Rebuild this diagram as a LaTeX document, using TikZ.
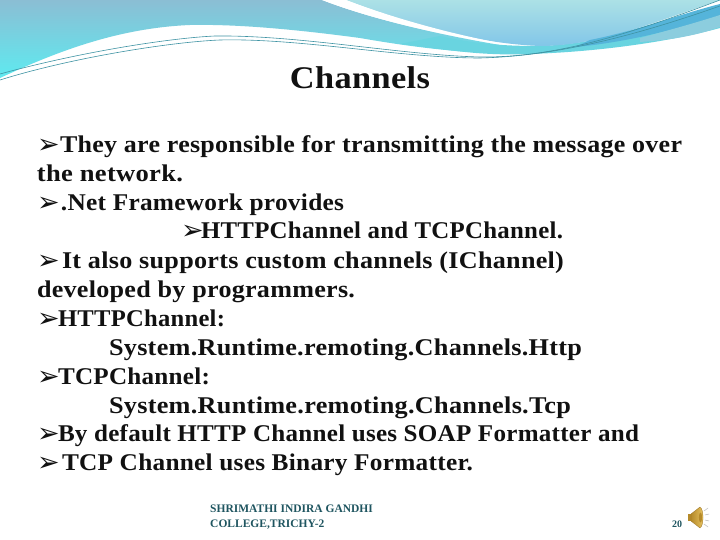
\documentclass[tikz,border=0pt]{standalone}
\usepackage{fontspec}
\usepackage{graphicx}
\setmainfont{Liberation Serif}
\newfontfamily\bulletfont{DejaVu Sans}
\newfontfamily\bodyfont[FakeStretch=1.09,LetterSpace=1.2]{Liberation Serif Bold}
\definecolor{inkc}{HTML}{111111}
\definecolor{footc}{HTML}{1F5560}
\definecolor{lineteal}{HTML}{3E93A3}
\definecolor{bandtop}{HTML}{8BBED4}
\definecolor{bandmid}{HTML}{82C8DA}
\definecolor{bandlow}{HTML}{5EEAF0}
\definecolor{cyanband}{HTML}{69D4E0}
\definecolor{ritop}{HTML}{ACE1E6}
\definecolor{ribot}{HTML}{82C6E8}
\definecolor{deepband}{HTML}{55B4DA}
\definecolor{paleband}{HTML}{8CCDDE}
\definecolor{spkfill}{HTML}{EBC662}
\definecolor{spkdark}{HTML}{B58A2A}
\definecolor{spkdraw}{HTML}{966E1E}
\tikzset{
 bodyline/.style={anchor=base west,inner sep=0pt,outer sep=0pt,text=inkc,font=\bodyfont\fontsize{24}{24}\selectfont},
 titleline/.style={anchor=base,inner sep=0pt,text=inkc,font=\bodyfont\fontsize{31.5}{32}\selectfont},
 footline/.style={anchor=base west,inner sep=0pt,text=footc,font=\bfseries\fontsize{11.5}{12}\selectfont},
 strand/.style={draw=lineteal,line width=0.6pt},
}
\newcommand{\blt}[1]{\makebox[#1][l]{\bulletfont\fontsize{27}{27}\selectfont\raisebox{-1pt}{➢}}}
\newcommand{\fitw}[2]{\resizebox{#1}{\height}{#2}}
\begin{document}
\begin{tikzpicture}[x=1pt,y=-1pt]
\useasboundingbox (0,0) rectangle (720,540);
\fill[white] (0,0) rectangle (720,540);
% upper left band
\shade[top color=bandtop,middle color=bandmid,bottom color=bandlow]
 (0,0) -- (322,0) .. controls (345,9) and (400,28) .. (500,45) -- (530,50)
 .. controls (500,56) and (440,52) .. (360,38)
 .. controls (300,30) and (240,24) .. (190,25)
 .. controls (120,28) and (60,50) .. (0,78) -- cycle;
% lower cyan band
\fill[cyanband] (440,36) .. controls (480,45) and (510,46) .. (540,46)
 .. controls (600,44) and (660,24) .. (720,8) -- (720,28)
 .. controls (660,44) and (590,52) .. (530,54) .. controls (480,56) and (450,50) .. (400,44) -- cycle;
% upper right region
\shade[top color=ritop,bottom color=ribot]
 (346,0) -- (720,0) .. controls (660,20) and (600,46) .. (540,46)
 .. controls (490,44) and (430,32) .. (346,0) -- cycle;
% deeper band at right
\fill[deepband] (590,40) .. controls (640,30) and (680,14) .. (720,4) -- (720,16)
 .. controls (680,28) and (630,42) .. (575,47) -- cycle;
\fill[paleband] (640,38) .. controls (670,30) and (695,23) .. (720,15) -- (720,27) .. controls (695,36) and (670,40) .. (640,42) -- cycle;
% white stripe
\fill[white] (322,0) -- (346,0) .. controls (390,17) and (450,34) .. (505,44) .. controls (450,36) and (380,22) .. (322,0) -- cycle;
% thin strands
\coordinate (s0) at (0,74);
\coordinate (s1) at (0,80);
\coordinate (s2) at (720,0);
\coordinate (s3) at (720,6);
\draw[strand] (s0) .. controls (80,52) and (170,38) .. (215,36) .. controls (300,35) and (400,55) .. (480,57) .. controls (560,58) and (640,30) .. (s2);
\draw[strand] (s1) .. controls (70,58) and (170,42) .. (220,40) .. controls (300,38) and (400,58) .. (480,58) .. controls (560,56) and (640,34) .. (s3);
% title
\node[titleline] (title) at (360,89) {Channels};
% body
\node[bodyline] (l1) at (37,153) {\blt{23pt}\fitw{622pt}{They are responsible for transmitting the message over}};
\node[bodyline] (l2) at (37,182) {\fitw{146pt}{the network.}};
\node[bodyline] (l3) at (37,211) {\blt{24pt}\fitw{283pt}{.Net Framework provides}};
\node[bodyline] (l4) at (181,239) {\blt{20pt}\fitw{362pt}{HTTPChannel and TCPChannel.}};
\node[bodyline] (l5) at (37,268) {\blt{25pt}\fitw{502pt}{It also supports custom channels (IChannel)}};
\node[bodyline] (l6) at (37,297) {\fitw{318pt}{developed by programmers.}};
\node[bodyline] (l7) at (37,326) {\blt{21pt}\fitw{167pt}{HTTPChannel:}};
\node[bodyline] (l8) at (109,355) {\fitw{473pt}{System.Runtime.remoting.Channels.Http}};
\node[bodyline] (l9) at (37,384) {\blt{21pt}\fitw{152pt}{TCPChannel:}};
\node[bodyline] (l10) at (109,413) {\fitw{462pt}{System.Runtime.remoting.Channels.Tcp}};
\node[bodyline] (l11) at (37,441) {\blt{21pt}\fitw{581pt}{By default HTTP Channel uses SOAP Formatter and}};
\node[bodyline] (l12) at (37,470) {\blt{25pt}\fitw{411pt}{TCP Channel uses Binary Formatter.}};
% footer
\node[footline] (f1) at (210,512) {SHRIMATHI INDIRA GANDHI};
\node[footline] (f2) at (210,527) {COLLEGE,TRICHY-2};
\node[footline,font=\bfseries\fontsize{10}{10}\selectfont] (pg) at (672,527) {20};
% speaker
\fill[spkdark] (688,514) rectangle (693,521);
\shade[left color=spkdark,right color=spkfill,draw=spkdraw,line width=0.3pt]
 (691,514) -- (700,507) .. controls (704,509) and (704,526) .. (700,528) -- (691,521) -- cycle;
\fill[spkdark] (700.5,517.5) ellipse (1.6 and 5);
\draw[gray!55,line width=0.5pt] (704,511)--(708,508) (705,515)--(709,514) (705,520)--(709,521) (704,524)--(708,527);
\end{tikzpicture}
\end{document}
